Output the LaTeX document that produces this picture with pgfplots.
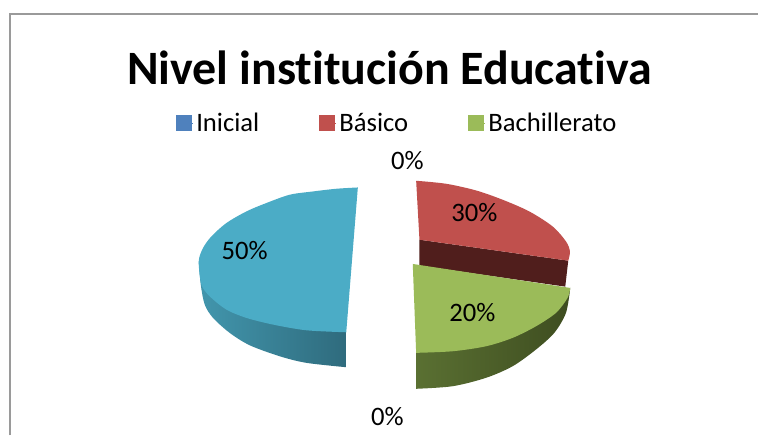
\documentclass[border=0pt]{standalone}
\usepackage{fontspec}
\setmainfont[Ligatures=NoCommon]{Carlito}
\usepackage{pgfplots}
\pgfplotsset{compat=1.18}
\definecolor{legblue}{HTML}{4F81BD}
\definecolor{topblue}{HTML}{4BACC6}
\definecolor{sideblueL}{HTML}{4296AD}
\definecolor{sideblueR}{HTML}{2F6B7D}
\definecolor{topred}{HTML}{C0504D}
\definecolor{sidered}{HTML}{501E1C}
\definecolor{topgreen}{HTML}{9BBB59}
\definecolor{sidegreenL}{HTML}{5A7032}
\definecolor{sidegreenR}{HTML}{3E4D20}
\definecolor{framegray}{HTML}{9A9A9A}

\begin{document}
\begin{tikzpicture}
\begin{axis}[
    scale only axis,
    width=569.25pt, height=327pt,
    xmin=0, xmax=759, ymin=0, ymax=436,
    y dir=reverse,
    axis lines=none,
    clip=false,
    legend columns=3,
    legend style={
        at={(axis cs:176,123)}, anchor=west,
        draw=none, fill=none, inner sep=0pt, outer sep=0pt,
        font=\fontsize{20pt}{22pt}\selectfont,
        /tikz/every even column/.append style={column sep=42.75pt},
    },
    legend cell align=left,
    legend image code/.code={
        \fill[#1] (0pt,-5.6pt) rectangle (11.2pt,5.6pt);
        \path (0pt,0pt) -- (13pt,0pt);
    },
]
%% page size, the axis has no box of its own
\path (axis cs:0,0) -- (axis cs:759,436);

%% frame of the chart area
\addplot[forget plot, framegray, line width=1.5pt] coordinates {(10,436)(10,14)(759,14)};

%% blue slice (50%), pixels of the picture
\addplot[forget plot, smooth, draw=none, left color=sideblueL, right color=sideblueR] coordinates {
    (199,262)(201,285)(205,305)(213.3,318.3)(230,333.3)(250,345.7)(280,356.7)(306.7,363.3)(346.7,367.7)
} -- (axis cs:346.7,332) -- cycle;
\addplot[forget plot, smooth, draw=none, fill=topblue] coordinates {
    (358.3,187.7)(336.7,189)(313.3,191.7)(290,195)(266.7,203.3)(246.7,211.7)(226.7,223.3)(211.7,236.7)(203.3,248.3)(199,261.7)
    (201.7,285)(210,296.7)(226.7,310)(246.7,318.3)(273.3,325)(306.7,330.7)(346.7,332.7)
} -- cycle;

%% red slice (30%)
\addplot[forget plot, draw=none, fill=sidered] coordinates {
    (420,240)(569,261)(566,287)(420,266)
} -- cycle;
\addplot[forget plot, smooth, draw=none, fill=topred] coordinates {
    (416.7,181)(446.7,184)(476.7,190.7)(503.3,200)(530,211.7)(553.3,226.7)(566.7,241.7)(570.7,251.7)(569,261)
} -- (axis cs:420,240) -- cycle;

%% green slice (20%)
\addplot[forget plot, smooth, draw=none, left color=sidegreenL, right color=sidegreenR] coordinates {
    (571,288.3)(566.7,313.3)(555,333.3)(536.7,350)(513.3,366.7)(486.7,378.3)(453.3,386.7)(416.7,389.3)
} -- (axis cs:416.7,353.3) -- cycle;
\addplot[forget plot, smooth, draw=none, fill=topgreen] coordinates {
    (571,288.3)(568.3,298.3)(556.7,313.3)(536.7,326.7)(513.3,338.3)(486.7,346.7)(453.3,351.7)(416.7,353.3)
} -- (axis cs:413.3,264.3) -- cycle;

%% legend
\addlegendimage{legblue}
\addlegendentry{Inicial}
\addlegendimage{topred}
\addlegendentry{Básico}
\addlegendimage{topgreen}
\addlegendentry{Bachillerato}

%% title and data labels
\node[font=\fontsize{36pt}{38pt}\selectfont\bfseries] at (axis cs:390,68) {Nivel institución Educativa};
\node[font=\fontsize{20pt}{22pt}\selectfont] at (axis cs:245,251) {50\%};
\node[font=\fontsize{20pt}{22pt}\selectfont] at (axis cs:475,213) {30\%};
\node[font=\fontsize{20pt}{22pt}\selectfont] at (axis cs:473,313) {20\%};
\node[font=\fontsize{20pt}{22pt}\selectfont] at (axis cs:408,161) {0\%};
\node[font=\fontsize{20pt}{22pt}\selectfont] at (axis cs:388,417) {0\%};
\end{axis}
\end{tikzpicture}
\end{document}
